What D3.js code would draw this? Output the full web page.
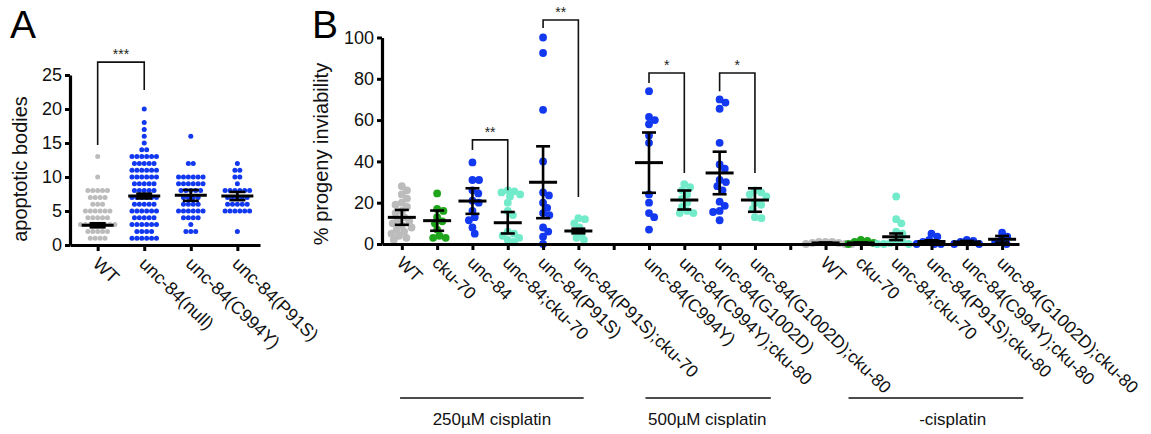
<!DOCTYPE html>
<html>
<head>
<meta charset="utf-8">
<script src="https://cdn.jsdelivr.net/npm/d3@7"></script>
<style>
  body { margin: 0; background: #fff; }
  svg { display: block; font-family: Arial, "Liberation Sans", sans-serif; }
</style>
</head>
<body>
<div id="chart"></div>
<script>
const GRAY = "#bcbcbc", GREEN = "#1fa51c", BLUE = "#1238f0", MINT = "#72ebca";

// ---- Panel A: apoptotic bodies, [value, count] per strain
const groupsA = ["WT", "unc-84(null)", "unc-84(C994Y)", "unc-84(P91S)"];
const colorsA = [GRAY, BLUE, BLUE, BLUE];
const wtA = [[1,4],[2,5],[3,8],[4,5],[5,6],[6,3],[7,4],[8,5],[10,1],[13,1]];
const nullA = [[1,6],[2,4],[3,6],[4,5],[5,6],[6,5],[7,6],[8,5],[9,5],[10,6],[11,6],[12,5],[13,6],[14,2],[15,1],[16,1],[17,1],[18,1],[20,1]];
const c994yA = [[2,3],[3,1],[4,4],[5,6],[6,4],[7,4],[8,5],[9,6],[10,6],[12,2],[16,1]];
const p91sA = [[2,1],[5,6],[6,5],[7,5],[8,6],[9,1],[10,2],[11,2],[12,1]];
const countsA = [wtA, nullA, c994yA, p91sA];
const meansA = [2.9, 7.2, 7.3, 7.2];
const semsA = [0.3, 0.35, 0.8, 0.6];
const ticksA = [0, 5, 10, 15, 20, 25];

// ---- Panel B: % progeny inviability
const groupsB = ["WT", "cku-70", "unc-84", "unc-84;cku-70", "unc-84(P91S)", "unc-84(P91S);cku-70", "",
  "unc-84(C994Y)", "unc-84(C994Y);cku-80", "unc-84(G1002D)", "unc-84(G1002D);cku-80", "",
  "WT", "cku-70", "unc-84;cku-70", "unc-84(P91S);cku-80", "unc-84(C994Y);cku-80", "unc-84(G1002D);cku-80"];
const colorsB = [GRAY, GREEN, BLUE, MINT, BLUE, MINT, null, BLUE, MINT, BLUE, MINT, null, GRAY, GREEN, MINT, BLUE, BLUE, BLUE];
const wt250 = [28, 26, 24, 22, 20, 19, 18, 16, 15, 13, 12, 11, 10, 9, 8, 7, 6, 5, 4, 3, 2];
const cku250 = [24.5, 17, 16, 13, 11, 10, 7, 4, 3, 3];
const unc84_250 = [39.5, 31, 31, 26, 24.5, 21, 20, 16, 13, 11.5, 8, 5];
const unc84cku_250 = [26, 25.5, 25, 24, 23, 20, 16, 14, 6, 5, 4, 3, 2, 1];
const p91s_250 = [100, 92.5, 65, 40, 25, 23.5, 20, 17.5, 15, 14, 8, 6, 3.5, 0];
const p91scku_250 = [12.5, 12, 10, 8, 6, 5, 3, 2];
const c994y_500 = [74, 61.5, 60, 58, 52.5, 49, 24, 20, 15, 13, 7];
const c994ycku_500 = [29, 27.5, 26, 24, 22, 20, 18, 16, 15, 15];
const g1002d_500 = [70, 68.5, 65.5, 49, 38.5, 36.5, 31, 30, 28, 26, 20.5, 18.5, 16, 15.5, 11.5];
const g1002dcku_500 = [26, 25, 24, 23, 20, 19, 17, 13, 12.5];
const wt0 = [1, 1, 0.5, 0, 0, 0.5, 1, 0];
const cku0 = [2, 1.5, 0.5, 0, 1];
const unc84cku0 = [23, 12, 10, 6, 5, 2, 1, 0.5, 0, 0, 0];
const p91scku0 = [5, 3.5, 2, 1, 0, 0, 0];
const c994ycku0 = [2, 1.5, 1, 0, 0];
const g1002dcku0 = [5.5, 3.5, 2, 1, 0];
const valuesB = [wt250, cku250, unc84_250, unc84cku_250, p91s_250, p91scku_250, [],
  c994y_500, c994ycku_500, g1002d_500, g1002dcku_500, [],
  wt0, cku0, unc84cku0, p91scku0, c994ycku0, g1002dcku0];
const meansB = [12.9, 11.3, 20.8, 10.3, 29.9, 6.3, null, 39.4, 21.3, 34.4, 21.3, null, 0.5, 0.5, 3.5, 1.2, 1.0, 2.3];
const semsB = [3.6, 4.9, 6.2, 5.2, 17.4, 1.1, null, 14.6, 4.6, 10.3, 5.7, null, 0.2, 0.2, 1.6, 0.6, 0.5, 1.6];
const ticksB = [0, 20, 40, 60, 80, 100];

// significance brackets: [left idx, right idx, top, left end, right end, label]
const bracketsA = [[0, 1, 26.9, 14.7, 22.8, "***"]];
const bracketsB = [[2, 3, 50.4, 45.5, 26, "**"], [4, 5, 108.5, 104.6, 22.8, "**"],
  [7, 8, 82.8, 78, 34.4, "*"], [9, 10, 82.8, 74, 34.4, "*"]];
// treatment groups: [label, from idx, to idx, label centre idx]
const treatments = [["250\u00b5M cisplatin", -0.05, 5.15, 2.55], ["500\u00b5M cisplatin", 6.9, 10.45, 8.65], ["-cisplatin", 12.65, 17.6, 15.6]];

const W = 1151, H = 434;
const svg = d3.select("#chart").append("svg").attr("width", W).attr("height", H);

function swarm(values, y, diam) {
  const placed = [];
  const pts = values.map(v => ({ v, y: y(v) })).sort((a, b) => a.y - b.y);
  pts.forEach(p => {
    const near = placed.filter(q => Math.abs(q.y - p.y) < diam);
    const cands = [0];
    near.forEach(q => {
      const dx = Math.sqrt(diam * diam - (q.y - p.y) ** 2);
      cands.push(q.dx + dx, q.dx - dx);
    });
    cands.sort((a, b) => Math.abs(a) - Math.abs(b));
    p.dx = cands.find(c => near.every(q => (q.dx - c) ** 2 + (q.y - p.y) ** 2 >= diam * diam - 0.01));
    placed.push(p);
  });
  return pts;
}

function drawAxes(g, x, y, ticks, labels, fs) {
  const yAxis = g.append("g").attr("transform", `translate(${x.range()[0]},0)`)
    .call(d3.axisLeft(y).tickValues(ticks).tickSize(5).tickSizeOuter(0).tickPadding(3));
  const xAxis = g.append("g").attr("transform", `translate(0,${y(0)})`)
    .call(d3.axisBottom(x).tickSize(6).tickSizeOuter(0).tickFormat(""));
  [yAxis, xAxis].forEach(a => {
    a.select(".domain").attr("stroke", "#000").attr("stroke-width", 3.2);
    a.selectAll(".tick line").attr("stroke", "#000").attr("stroke-width", 3);
  });
  yAxis.selectAll(".tick text").attr("font-size", 18).attr("fill", "#111")
    .attr("font-family", "Arial, 'Liberation Sans', sans-serif");
  g.append("g").selectAll("text").data(x.domain()).join("text")
    .attr("transform", d => `translate(${x(d) - 6},${y(0) + 20}) rotate(44)`)
    .attr("font-size", fs).attr("fill", "#111")
    .text((d, i) => labels[i]);
}

function drawMeans(g, keys, x, y, means, sems, wMean, wCap) {
  keys.forEach((k, i) => {
    if (means[i] == null) return;
    const cx = x(k), m = means[i], s = sems[i];
    const eg = g.append("g").attr("stroke", "#000");
    eg.append("line").attr("x1", cx).attr("x2", cx).attr("y1", y(m - s)).attr("y2", y(m + s)).attr("stroke-width", 2.6);
    [m - s, m + s].forEach(v => eg.append("line").attr("x1", cx - wCap / 2).attr("x2", cx + wCap / 2)
      .attr("y1", y(v)).attr("y2", y(v)).attr("stroke-width", 2.6));
    eg.append("line").attr("x1", cx - wMean / 2).attr("x2", cx + wMean / 2)
      .attr("y1", y(m)).attr("y2", y(m)).attr("stroke-width", 3);
  });
}

function drawBrackets(g, keys, x, y, list) {
  list.forEach(([a, b, top, l, r, lab]) => {
    const x1 = x(keys[a]), x2 = x(keys[b]);
    g.append("path").attr("fill", "none").attr("stroke", "#111").attr("stroke-width", 1.6)
      .attr("d", `M${x1},${y(l)}V${y(top)}H${x2}V${y(r)}`);
    g.append("text").attr("x", (x1 + x2) / 2).attr("y", y(top) - 3).attr("text-anchor", "middle")
      .attr("font-size", 14).attr("fill", "#222").text(lab);
  });
}

// ---------- Panel A
const gA = svg.append("g");
const xA = d3.scalePoint().domain(groupsA).range([70, 260]).padding(0.54).align(0.55);
const yA = d3.scaleLinear().domain([0, 25]).range([245, 75]);

countsA.forEach((rows, gi) => {
  const pts = [];
  rows.forEach(([v, n]) => d3.range(n).forEach(k => pts.push({ v, dx: (k - (n - 1) / 2) * 4.9 })));
  gA.append("g").selectAll("circle").data(pts).join("circle")
    .attr("cx", d => xA(groupsA[gi]) + d.dx).attr("cy", d => yA(d.v)).attr("r", 2.5)
    .attr("fill", colorsA[gi]);
});
drawMeans(gA, groupsA, xA, yA, meansA, semsA, 32, 16);
drawAxes(gA, xA, yA, ticksA, groupsA, 18);
drawBrackets(gA, groupsA, xA, yA, bracketsA);
gA.append("text").attr("transform", "translate(27,169) rotate(-90)").attr("text-anchor", "middle")
  .attr("font-size", 20).attr("fill", "#111").text("apoptotic bodies");
gA.append("text").attr("x", 10).attr("y", 38).attr("font-size", 39).attr("fill", "#000").text("A");

// ---------- Panel B
const gB = svg.append("g");
const keysB = groupsB.map((d, i) => "k" + i);
const xB = d3.scalePoint().domain(keysB).range([382, 1019]).padding(0.52).align(0.54);
const yB = d3.scaleLinear().domain([0, 100]).range([244, 37.5]);

valuesB.forEach((vals, gi) => {
  if (!vals.length) return;
  const pts = swarm(vals, yB, 6.6);
  gB.append("g").selectAll("circle").data(pts).join("circle")
    .attr("cx", d => xB(keysB[gi]) + d.dx).attr("cy", d => d.y).attr("r", 3.9)
    .attr("fill", colorsB[gi]);
});
drawMeans(gB, keysB, xB, yB, meansB, semsB, 28, 14);
drawAxes(gB, xB, yB, ticksB, groupsB, 17.5);
drawBrackets(gB, keysB, xB, yB, bracketsB);
gB.append("text").attr("transform", "translate(328,154) rotate(-90)").attr("text-anchor", "middle")
  .attr("font-size", 20).attr("fill", "#111").text("% progeny inviability");
gB.append("text").attr("x", 312).attr("y", 38).attr("font-size", 39).attr("fill", "#000").text("B");

const xIdx = d3.scaleLinear().domain([0, 17]).range([xB(keysB[0]), xB(keysB[17])]);
treatments.forEach(([lab, a, b, c]) => {
  gB.append("line").attr("x1", xIdx(a)).attr("x2", xIdx(b)).attr("y1", 398).attr("y2", 398)
    .attr("stroke", "#111").attr("stroke-width", 1.6);
  gB.append("text").attr("x", xIdx(c)).attr("y", 425).attr("text-anchor", "middle")
    .attr("font-size", 17).attr("fill", "#111").text(lab);
});
</script>
</body>
</html>
